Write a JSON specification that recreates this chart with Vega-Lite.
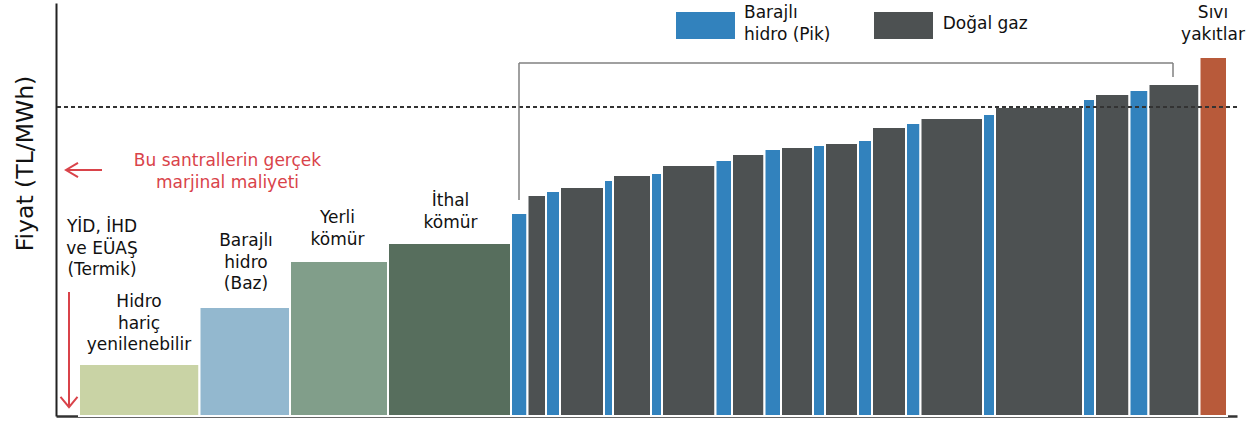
{
  "$schema": "https://vega.github.io/schema/vega-lite/v6.json",
  "autosize": "none",
  "width": 1181,
  "height": 413,
  "padding": {"left": 56, "top": 3, "right": 23, "bottom": 5},
  "background": "white",
  "config": {
    "view": {"stroke": null},
    "font": "DejaVu Sans",
    "text": {"font": "DejaVu Sans"}
  },
  "datasets": {
    "bars": [
      {"x0": 23, "x1": 143.5, "p": 52, "t": "renew"},
      {"x0": 143.5, "x1": 234, "p": 109, "t": "baz"},
      {"x0": 234, "x1": 332, "p": 155, "t": "yerli"},
      {"x0": 332, "x1": 455, "p": 173, "t": "ithal"},
      {"x0": 455, "x1": 471.5, "p": 203, "t": "pik"},
      {"x0": 471.5, "x1": 490, "p": 221, "t": "gaz"},
      {"x0": 490, "x1": 504, "p": 225, "t": "pik"},
      {"x0": 504, "x1": 548, "p": 229, "t": "gaz"},
      {"x0": 548, "x1": 557, "p": 236, "t": "pik"},
      {"x0": 557, "x1": 595, "p": 241, "t": "gaz"},
      {"x0": 595, "x1": 606, "p": 243, "t": "pik"},
      {"x0": 606, "x1": 659.5, "p": 251, "t": "gaz"},
      {"x0": 659.5, "x1": 676, "p": 256, "t": "pik"},
      {"x0": 676, "x1": 708.5, "p": 262, "t": "gaz"},
      {"x0": 708.5, "x1": 725, "p": 267, "t": "pik"},
      {"x0": 725, "x1": 757, "p": 269, "t": "gaz"},
      {"x0": 757, "x1": 769, "p": 271, "t": "pik"},
      {"x0": 769, "x1": 802, "p": 273, "t": "gaz"},
      {"x0": 802, "x1": 816, "p": 276, "t": "pik"},
      {"x0": 816, "x1": 850, "p": 289, "t": "gaz"},
      {"x0": 850, "x1": 864.5, "p": 293, "t": "pik"},
      {"x0": 864.5, "x1": 927, "p": 298, "t": "gaz"},
      {"x0": 927, "x1": 939, "p": 302, "t": "pik"},
      {"x0": 939, "x1": 1027, "p": 309, "t": "gaz"},
      {"x0": 1027, "x1": 1039, "p": 317, "t": "pik"},
      {"x0": 1039, "x1": 1073.5, "p": 322, "t": "gaz"},
      {"x0": 1073.5, "x1": 1092.5, "p": 326, "t": "pik"},
      {"x0": 1092.5, "x1": 1143.5, "p": 332, "t": "gaz"},
      {"x0": 1143.5, "x1": 1171, "p": 359, "t": "sivi"}
    ],
    "clearing": [{"p": 309}],
    "bracket": [
      {"x": 463, "x2": 463, "y": 216, "y2": 353},
      {"x": 463, "x2": 1117, "y": 353, "y2": 353},
      {"x": 1117, "x2": 1117, "y": 339, "y2": 353}
    ],
    "shafts": [
      {"x": 10, "x2": 46, "y": 246, "y2": 246},
      {"x": 13, "x2": 13, "y": 124, "y2": 10}
    ],
    "legend": [
      {"x": 620, "x2": 679, "y": 377, "y2": 404, "t": "pik"},
      {"x": 818, "x2": 877, "y": 377, "y2": 404, "t": "gaz"}
    ],
    "labels": [
      {"x": 46, "y": 184, "text": "YİD, İHD\nve EÜAŞ\n(Termik)"},
      {"x": 83, "y": 109, "text": "Hidro\nhariç\nyenilenebilir"},
      {"x": 190, "y": 170, "text": "Barajlı\nhidro\n(Baz)"},
      {"x": 281.5, "y": 193, "text": "Yerli\nkömür"},
      {"x": 394.5, "y": 210, "text": "İthal\nkömür"},
      {"x": 1157, "y": 397.7, "text": "Sıvı\nyakıtlar"}
    ],
    "legendText": [
      {"x": 688, "y": 397.7, "text": "Barajlı\nhidro (Pik)"},
      {"x": 886.7, "y": 386.7, "text": "Doğal gaz"}
    ]
  },
  "layer": [
    {
      "data": {"name": "bars"},
      "mark": {"type": "rect", "stroke": "white", "strokeWidth": 2},
      "encoding": {
        "x": {"field": "x0", "type": "quantitative", "scale": {"domain": [0, 1181], "nice": false, "zero": false},
          "axis": {"title": null, "labels": false, "ticks": false, "grid": false, "domainColor": "#333", "domainWidth": 2.5}},
        "x2": {"field": "x1"},
        "y": {"field": "p", "type": "quantitative", "scale": {"domain": [0, 413], "nice": false},
          "axis": {"title": "Fiyat (TL/MWh)", "labels": false, "ticks": false, "grid": false, "domainColor": "#222", "domainWidth": 2,
            "titleFont": "DejaVu Sans", "titleFontSize": 23.5, "titleFontWeight": "normal", "titleColor": "#111",
            "titleX": -24, "titleY": 160, "titleAngle": -90, "titleAlign": "center", "titleBaseline": "alphabetic"}},
        "y2": {"datum": 0},
        "color": {"field": "t", "type": "nominal", "legend": null,
          "scale": {"domain": ["renew", "baz", "yerli", "ithal", "pik", "gaz", "sivi"],
            "range": ["#c9d3a5", "#93b8cf", "#819e8a", "#576e5d", "#3282bd", "#4d5152", "#b85a3a"]}}
      }
    },
    {
      "data": {"name": "clearing"},
      "mark": {"type": "rule", "color": "#333", "strokeWidth": 2, "strokeDash": [4, 3]},
      "encoding": {"y": {"field": "p", "type": "quantitative"}}
    },
    {
      "data": {"name": "bracket"},
      "mark": {"type": "rule", "color": "#808080", "strokeWidth": 1.5},
      "encoding": {
        "x": {"field": "x", "type": "quantitative"}, "x2": {"field": "x2"},
        "y": {"field": "y", "type": "quantitative"}, "y2": {"field": "y2"}
      }
    },
    {
      "data": {"name": "shafts"},
      "mark": {"type": "rule", "color": "#d9434a", "strokeWidth": 2},
      "encoding": {
        "x": {"field": "x", "type": "quantitative"}, "x2": {"field": "x2"},
        "y": {"field": "y", "type": "quantitative"}, "y2": {"field": "y2"}
      }
    },
    {
      "data": {"values": [{"x": 16, "y": 246}]},
      "mark": {"type": "point", "shape": "M1,-1.2L-1,0L1,1.2", "filled": false, "size": 144, "stroke": "#d9434a", "strokeWidth": 2, "opacity": 1},
      "encoding": {"x": {"field": "x", "type": "quantitative"}, "y": {"field": "y", "type": "quantitative"}}
    },
    {
      "data": {"values": [{"x": 13, "y": 14}]},
      "mark": {"type": "point", "shape": "M-1,-0.6L0,0.6L1,-0.6", "filled": false, "size": 289, "stroke": "#d9434a", "strokeWidth": 2, "opacity": 1},
      "encoding": {"x": {"field": "x", "type": "quantitative"}, "y": {"field": "y", "type": "quantitative"}}
    },
    {
      "data": {"name": "legend"},
      "mark": {"type": "rect"},
      "encoding": {
        "x": {"field": "x", "type": "quantitative"}, "x2": {"field": "x2"},
        "y": {"field": "y", "type": "quantitative"}, "y2": {"field": "y2"},
        "color": {"field": "t", "type": "nominal", "legend": null}
      }
    },
    {
      "data": {"name": "labels"},
      "mark": {"type": "text", "align": "center", "baseline": "alphabetic", "fontSize": 17, "lineHeight": 21.5, "lineBreak": "\n", "color": "#111"},
      "encoding": {"x": {"field": "x", "type": "quantitative"}, "y": {"field": "y", "type": "quantitative"}, "text": {"field": "text"}}
    },
    {
      "data": {"values": [{"x": 171.5, "y": 250, "text": "Bu santrallerin gerçek\nmarjinal maliyeti"}]},
      "mark": {"type": "text", "align": "center", "baseline": "alphabetic", "fontSize": 17, "lineHeight": 22, "lineBreak": "\n", "color": "#d9434a"},
      "encoding": {"x": {"field": "x", "type": "quantitative"}, "y": {"field": "y", "type": "quantitative"}, "text": {"field": "text"}}
    },
    {
      "data": {"name": "legendText"},
      "mark": {"type": "text", "align": "left", "baseline": "alphabetic", "fontSize": 17, "lineHeight": 21.5, "lineBreak": "\n", "color": "#111"},
      "encoding": {"x": {"field": "x", "type": "quantitative"}, "y": {"field": "y", "type": "quantitative"}, "text": {"field": "text"}}
    }
  ]
}
